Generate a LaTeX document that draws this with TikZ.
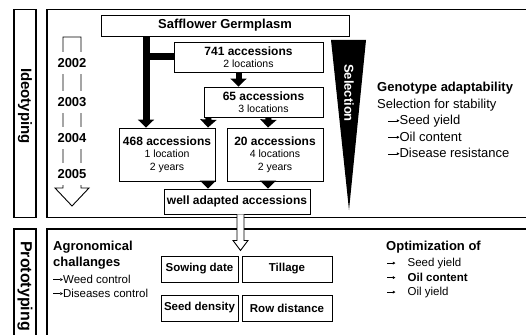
\documentclass[tikz,border=0pt]{standalone}
\usepackage{fontspec}
\setmainfont{Liberation Sans}
\usetikzlibrary{arrows.meta}

% small thin arrow for the lists
\newcommand{\rarr}[1]{\tikz[baseline=-0.3em]\draw[line width=0.4pt,
    -{Triangle[length=2.6pt,width=2.8pt]}] (0pt,0pt) -- (#1,0pt);}

\tikzset{
  box/.style={draw, line width=0.9pt, fill=white, inner sep=0pt, align=center,
    font=\fontsize{10.5}{12.5}\selectfont},
  smallbox/.style={box, font=\fontsize{11.5}{13}\selectfont\bfseries,
    minimum width=77pt, minimum height=26pt},
  frame/.style={draw, line width=1.2pt},
  fat/.style={line width=6pt, -{Triangle[width=16pt,length=8pt]}},
  year/.style={fill=white, inner xsep=1pt, inner ysep=6pt,
    font=\fontsize{13}{15}\selectfont\bfseries},
  side/.style={rotate=-90, font=\fontsize{15}{17}\selectfont\bfseries},
}

\begin{document}
\begin{tikzpicture}[x=1pt,y=-1pt]
    \useasboundingbox (0,0) rectangle (526,334);
    \clip (0,0) rectangle (526,334);

    % Frames
    \draw[frame] (14,9.5) rectangle (36,217.5);
    \draw[frame] (47,9.5) rectangle (532,217.5);
    \draw[frame] (14,229) rectangle (36,340);
    \draw[frame] (47,229) rectangle (532,340);
    \node[side] (ideo) at (25,106) {Ideotyping};
    \node[side, font=\fontsize{16}{18}\selectfont\bfseries] (proto) at (25,286) {Prototyping};

    % Years
    \draw[line width=0.9pt] (63,188) -- (63,37) -- (81,37) -- (81,188) -- (89,188)
        -- (72,206) -- (55,188) -- cycle;
    \node[year] (y2) at (72,63) {2002};
    \node[year] (y3) at (72,102) {2003};
    \node[year] (y4) at (72,138) {2004};
    \node[year] (y5) at (72,174) {2005};

    % Accessions
    \node[box, minimum width=248pt, minimum height=21pt, font=\fontsize{13}{15}\selectfont\bfseries]
        (germ) at (225,25.5) {Safflower Germplasm};
    \node[box, minimum width=149pt, minimum height=30pt] (a741) at (248.5,57)
        {{\fontsize{12}{14}\selectfont\bfseries 741 accessions}\\2 locations};
    \node[box, minimum width=119pt, minimum height=30pt] (a65) at (263.5,102)
        {{\fontsize{12}{14}\selectfont\bfseries 65 accessions}\\3 locations};
    \node[box, minimum width=96pt, minimum height=53pt] (a468) at (167,154.5)
        {{\fontsize{12}{14}\selectfont\bfseries 468 accessions}\\1 location\\2 years};
    \node[box, minimum width=96pt, minimum height=53pt] (a20) at (275,154.5)
        {{\fontsize{12}{14}\selectfont\bfseries 20 accessions}\\4 locations\\2 years};
    \node[box, minimum width=146pt, minimum height=25pt, font=\fontsize{12}{14}\selectfont\bfseries]
        (adapted) at (237,201.5) {well adapted accessions};

    % Thick arrows
    \draw[line width=7pt, -{Triangle[width=16pt,length=8pt]}]
        ([xshift=-79pt]germ.south) -- ([xshift=-21pt]a468.north);
    \draw[line width=7pt] (146,57) -- (a741.west);
    \draw[fat] ([xshift=-10pt]a741.south) -- ([xshift=-25pt]a65.north);
    \draw[fat] ([xshift=-55pt]a65.south) -- ([xshift=41pt]a468.north);
    \draw[fat] ([xshift=5pt]a65.south) -- ([xshift=-7pt]a20.north);
    \draw[fat] ([xshift=41pt]a468.south) -- ([xshift=-29pt]adapted.north);
    \draw[fat] ([xshift=-7pt]a20.south) -- ([xshift=31pt]adapted.north);

    % Selection
    \fill (331,40) -- (366,40) -- (349,210) -- cycle;
    \node[rotate=-90, white, font=\fontsize{13}{15}\selectfont\bfseries] (sel) at (349,93) {Selection};
    \node[anchor=north west, align=left, inner sep=0pt, font=\fontsize{13}{16.5}\selectfont]
        (geno) at (377,82) {\textbf{Genotype adaptability}\\Selection for stability\\
        \hspace*{11pt}\rarr{11pt}Seed yield\\\hspace*{11pt}\rarr{11pt}Oil content\\
        \hspace*{11pt}\rarr{11pt}Disease resistance};

    % Prototyping
    \node[smallbox] (sow) at (199.5,269) {Sowing date};
    \node[smallbox, minimum width=90pt] (till) at (287,269) {Tillage};
    \node[smallbox] (dens) at (199.5,308) {Seed density};
    \node[smallbox, minimum width=90pt] (row) at (287,308) {Row distance};

    \node[anchor=north west, align=left, inner sep=0pt, font=\fontsize{13}{16}\selectfont\bfseries]
        (agro) at (53,241) {Agronomical\\challanges};
    \node[anchor=north west, align=left, inner sep=0pt, font=\fontsize{11.5}{14}\selectfont]
        (agrolist) at (53,274.5) {\rarr{9.5pt}Weed control\\\rarr{9.5pt}Diseases control};
    \node[anchor=north west, inner sep=0pt, font=\fontsize{13}{15}\selectfont\bfseries]
        (opt) at (386,241) {Optimization of};
    \node[anchor=north west, align=left, inner sep=0pt, font=\fontsize{11.5}{14.5}\selectfont]
        (optlist) at (387,258) {\rarr{8pt}\hspace{12pt}Seed yield\\
        \rarr{8pt}\hspace{12pt}\textbf{Oil content}\\\rarr{8pt}\hspace{12pt}Oil yield};

    % Hollow arrow
    \draw[line width=0.9pt, fill=white] (adapted.south) -- ++(0,26)
        -- ++(-4,0) -- ++(7.5,10) -- ++(7.5,-10) -- ++(-4,0) -- ++(0,-26);
\end{tikzpicture}
\end{document}
